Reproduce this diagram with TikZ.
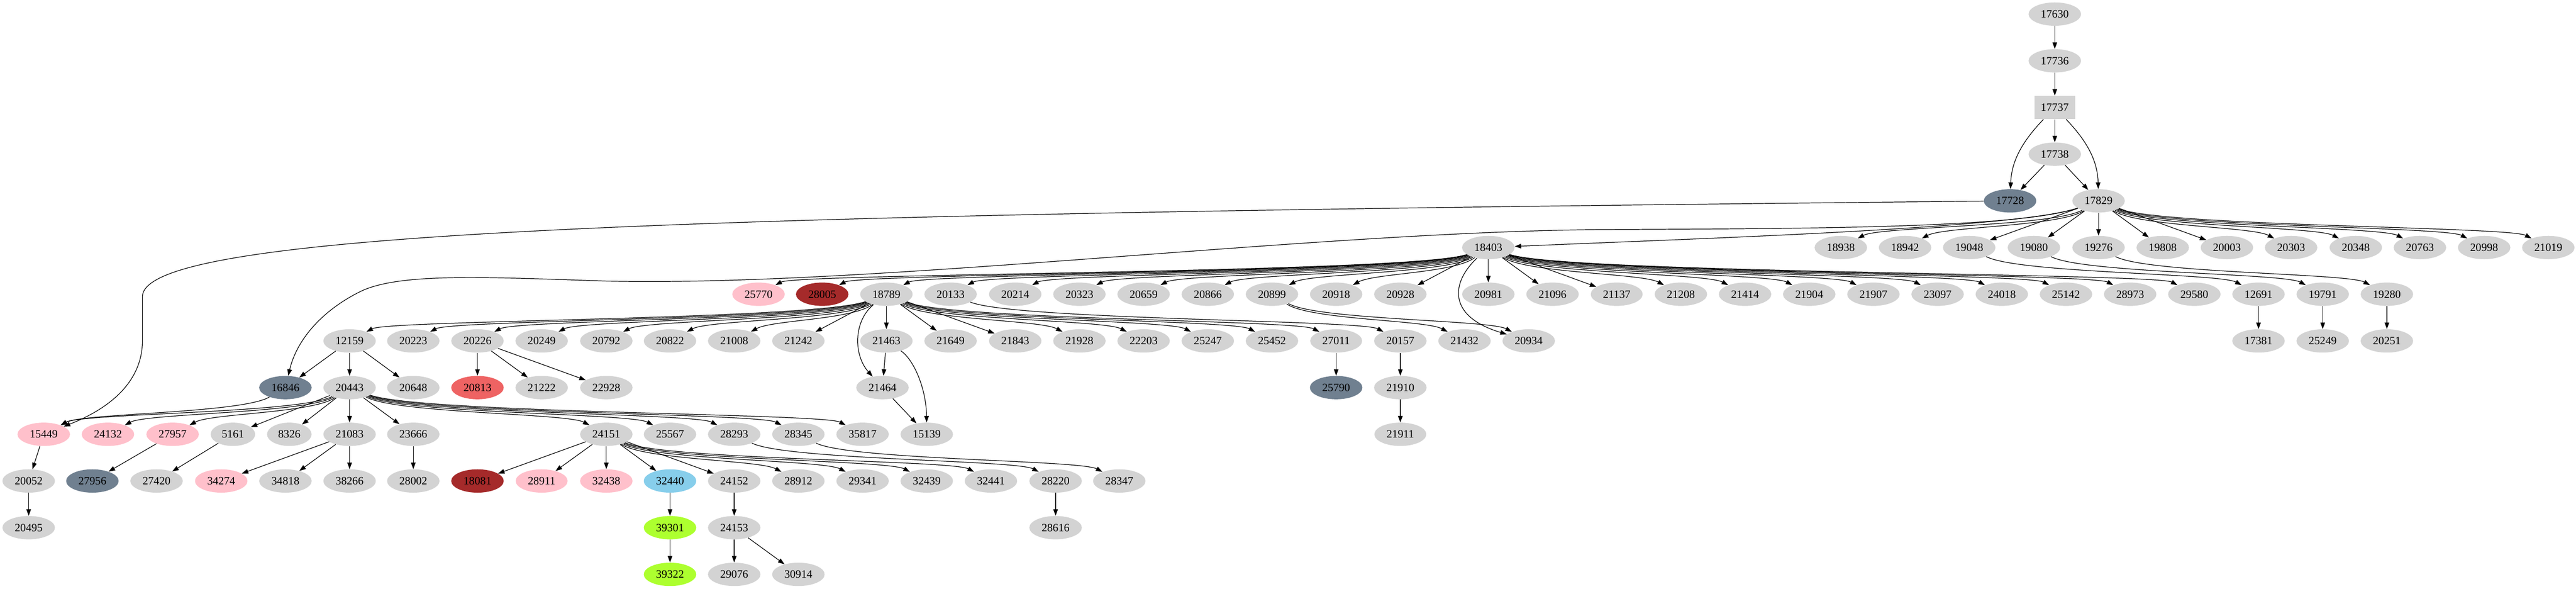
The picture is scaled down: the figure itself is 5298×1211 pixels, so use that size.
\documentclass[tikz,border=0pt]{standalone}
\usepackage{fontspec}
\setmainfont{Liberation Serif}
\usetikzlibrary{arrows.meta,shapes.geometric,calc}
\definecolor{mygray}{HTML}{D3D3D3}
\definecolor{mypink}{HTML}{FFC0CB}
\definecolor{myslate}{HTML}{708090}
\definecolor{mybrown}{HTML}{A52A2A}
\definecolor{mysky}{HTML}{87CEEB}
\definecolor{mylime}{HTML}{ADFF2F}
\definecolor{myred}{HTML}{EE6363}

\tikzset{
  VertexStyle/.style={shape=ellipse, fill=mygray, inner xsep=4.7pt, inner ysep=0pt,
    minimum height=24pt, font=\fontsize{11.5}{13}\selectfont},
  BoxStyle/.style={VertexStyle, shape=rectangle, inner xsep=6.6pt},
  EdgeStyle/.style={-{Triangle[length=6.7pt,width=4.7pt]}, line width=0.65pt}
}
% spline from a parent to a far child one rank lower
\newcommand{\FanEdge}[2]{%
  \path let \p1=(#1), \p2=(#2) in
    coordinate (fa) at ({\x1+max(-80,min(80,0.1*(\x2-\x1)+20*sign(\x2-\x1)))},{0.45*\y1+0.55*\y2})
    coordinate (fb) at ({\x2+max(-40,min(40,0.25*(\x1-\x2)))},{0.45*\y1+0.55*\y2});
  \draw[EdgeStyle] (#1) .. controls (fa) and (fb) .. (#2);}

\begin{document}
\begin{tikzpicture}[x=0.5pt,y=-0.5pt]
\useasboundingbox (0,0) rectangle (5298,1211);
% ranks 0-4
\node[VertexStyle] (v17630) at (4226,29) {17630};
\node[VertexStyle] (v17736) at (4226,125) {17736};
\node[BoxStyle] (v17737) at (4226,221) {17737};
\node[VertexStyle] (v17738) at (4226,317) {17738};
\node[VertexStyle, fill=myslate] (v17728) at (4134,413) {17728};
\node[VertexStyle] (v17829) at (4316,413) {17829};
% rank 5
\foreach \n/\x in {18403/3061, 18938/3786, 18942/3918, 19048/4050, 19080/4183,
  19276/4316, 19808/4448, 20003/4580, 20303/4712, 20348/4845, 20763/4977,
  20998/5109, 21019/5241}
  {\node[VertexStyle] (v\n) at (\x,509) {\n};}
% rank 6
\foreach \n/\x/\c in {25770/1560/mypink, 28005/1691/mybrown, 18789/1823/mygray,
  20133/1955/mygray, 20214/2088/mygray, 20323/2220/mygray, 20659/2352/mygray,
  20866/2484/mygray, 20899/2616/mygray, 20918/2748/mygray, 20928/2880/mygray,
  20981/3061/mygray, 21096/3193/mygray, 21137/3325/mygray, 21208/3457/mygray,
  21414/3589/mygray, 21904/3721/mygray, 21907/3853/mygray, 23097/3985/mygray,
  24018/4117/mygray, 25142/4249/mygray, 28973/4381/mygray, 29580/4513/mygray,
  12691/4645/mygray, 19791/4777/mygray, 19280/4909/mygray}
  {\node[VertexStyle, fill=\c] (v\n) at (\x,605) {\n};}
% rank 7
\foreach \n/\x in {12159/719, 20223/850, 20226/982, 20249/1114, 20792/1247,
  20822/1378, 21008/1510, 21242/1642, 21463/1823, 21649/1955, 21843/2088,
  21928/2220, 22203/2352, 25247/2484, 25452/2616, 27011/2748, 20157/2880,
  21432/3012, 20934/3144, 17381/4645, 25249/4777, 20251/4909}
  {\node[VertexStyle] (v\n) at (\x,701) {\n};}
% rank 8
\foreach \n/\x/\c in {16846/587/myslate, 20443/719/mygray, 20648/850/mygray,
  20813/982/myred, 21222/1114/mygray, 22928/1247/mygray, 21464/1815/mygray,
  25790/2748/myslate, 21910/2880/mygray}
  {\node[VertexStyle, fill=\c] (v\n) at (\x,797) {\n};}
% rank 9
\foreach \n/\x/\c in {15449/90/mypink, 24132/222/mypink, 27957/355/mypink,
  5161/479/mygray, 8326/595/mygray, 21083/719/mygray, 23666/850/mygray,
  24151/1247/mygray, 25567/1378/mygray, 28293/1510/mygray, 28345/1642/mygray,
  35817/1774/mygray, 15139/1906/mygray, 21911/2880/mygray}
  {\node[VertexStyle, fill=\c] (v\n) at (\x,893) {\n};}
% rank 10
\foreach \n/\x/\c in {20052/59/mygray, 27956/190/myslate, 27420/322/mygray,
  34274/455/mypink, 34818/587/mygray, 38266/719/mygray, 28002/850/mygray,
  18081/982/mybrown, 28911/1114/mypink, 32438/1247/mypink, 32440/1378/mysky,
  24152/1510/mygray, 28912/1642/mygray, 29341/1774/mygray, 32439/1906/mygray,
  32441/2038/mygray, 28220/2171/mygray, 28347/2302/mygray}
  {\node[VertexStyle, fill=\c] (v\n) at (\x,989) {\n};}
% ranks 11-12
\node[VertexStyle] (v20495) at (59,1085) {20495};
\node[VertexStyle, fill=mylime] (v39301) at (1378,1085) {39301};
\node[VertexStyle] (v24153) at (1510,1085) {24153};
\node[VertexStyle] (v28616) at (2171,1085) {28616};
\node[VertexStyle, fill=mylime] (v39322) at (1378,1181) {39322};
\node[VertexStyle] (v29076) at (1510,1181) {29076};
\node[VertexStyle] (v30914) at (1642,1181) {30914};

% straight edges
\foreach \a/\b in {17630/17736, 17736/17737, 17737/17738, 17738/17728, 17738/17829,
  17829/19048, 17829/19080, 17829/19276, 17829/19808, 17829/20003,
  18403/20928, 18403/20981, 18403/21096, 18403/21137,
  18789/21242, 18789/21463, 18789/21649, 18789/21843,
  12159/16846, 12159/20443, 12159/20648, 20226/20813, 20226/21222, 20226/22928,
  20443/5161, 20443/8326, 20443/21083, 20443/23666,
  21083/34274, 21083/34818, 21083/38266,
  24151/18081, 24151/28911, 24151/32438, 24151/32440, 24151/24152,
  15449/20052, 20052/20495, 27957/27956, 5161/27420, 23666/28002,
  32440/39301, 39301/39322, 24152/24153, 24153/29076, 24153/30914,
  28220/28616, 27011/25790, 20157/21910, 21910/21911, 21463/21464,
  21464/15139, 12691/17381, 19791/25249, 19280/20251}
  {\draw[EdgeStyle] (v\a) -- (v\b);}
% fans
\foreach \c in {18938, 18942, 20303, 20348, 20763, 20998, 21019}
  {\FanEdge{v17829}{v\c}}
\foreach \c in {25770, 28005, 18789, 20133, 20214, 20323, 20659, 20866, 20899,
  20918, 21208, 21414, 21904, 21907, 23097, 24018, 25142, 28973, 29580}
  {\FanEdge{v18403}{v\c}}
\foreach \c in {12159, 20223, 20226, 20249, 20792, 20822, 21008, 21928, 22203,
  25247, 25452, 27011}
  {\FanEdge{v18789}{v\c}}
\foreach \c in {15449, 24132, 27957, 24151, 25567, 28293, 28345, 35817}
  {\FanEdge{v20443}{v\c}}
\foreach \c in {28912, 29341, 32439, 32441}
  {\FanEdge{v24151}{v\c}}
\foreach \a/\b in {16846/15449, 28293/28220, 28345/28347, 20133/20157,
  20899/21432, 20899/20934, 19048/12691, 19080/19791, 19276/19280}
  {\FanEdge{v\a}{v\b}}
% long and bent edges
\draw[EdgeStyle] (v17737) .. controls (4160,290) and (4137,330) .. (v17728);
\draw[EdgeStyle] (v17737) .. controls (4292,290) and (4314,330) .. (v17829);
\draw[EdgeStyle] (v17829) .. controls (4150,470) and (3500,490) .. (v18403);
\draw[EdgeStyle] (v17829) .. controls (4150,470) and (3700,470) .. (3300,472)
  .. controls (2700,476) and (1800,590) .. (1250,578)
  .. controls (1000,570) and (820,560) .. (740,600)
  .. controls (660,640) and (610,700) .. (v16846);
\draw[EdgeStyle] (v17728) .. controls (1500,440) and (293,470) .. (293,610)
  -- (293,700) .. controls (293,800) and (200,850) .. (v15449);
\draw[EdgeStyle] (v18403) .. controls (2985,580) and (2975,650) .. (v20934);
\draw[EdgeStyle] (v18789) .. controls (1755,660) and (1755,730) .. (v21464);
\draw[EdgeStyle] (v21463) .. controls (1880,740) and (1905,800) .. (v15139);
\end{tikzpicture}
\end{document}
